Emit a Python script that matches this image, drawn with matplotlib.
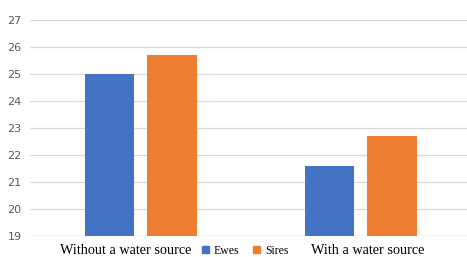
import matplotlib
matplotlib.use("Agg")
import matplotlib.pyplot as plt
import numpy as np
from matplotlib.patches import Patch

categories = ["Without a water source", "With a water source"]
series_names = ["Ewes", "Sires"]
ewes = [25.0, 21.6]
sires = [25.7, 22.7]
yticks = [19, 20, 21, 22, 23, 24, 25, 26, 27]

blue = "#4472C4"
orange = "#ED7D31"

fig = plt.figure(figsize=(4.67, 2.57), dpi=100)
ax = fig.add_axes([0.064, 0.082, 0.936, 0.840])

x = np.arange(len(categories))
w = 0.227
off = 0.143
ax.bar(x - off, ewes, width=w, color=blue, zorder=2)
ax.bar(x + off, sires, width=w, color=orange, zorder=2)

ax.set_xlim(-0.505, 1.482)
ax.set_ylim(19, 27)
ax.set_yticks(yticks)
ax.set_yticklabels([str(t) for t in yticks], color="#595959", fontsize=8)
ax.yaxis.grid(True, color="#D9D9D9", linewidth=0.9, zorder=0)
ax.set_axisbelow(True)
ax.tick_params(axis="y", length=0, pad=6)
ax.set_xticks(x + np.array([-0.07, 0.03]))
ax.set_xticklabels(categories, fontfamily="Liberation Serif", fontsize=10.3, color="black")
ax.tick_params(axis="x", length=0, pad=6)
for s in ax.spines.values():
    s.set_visible(False)
ax.axhline(19, color="#D9D9D9", linewidth=0.9, zorder=1)

handles = [Patch(color=blue), Patch(color=orange)]
fig.legend(handles, series_names, loc="center", bbox_to_anchor=(0.525, 0.025), ncol=2,
           frameon=False, prop={"family": "Liberation Serif", "size": 8.5},
           handlelength=0.6, handleheight=0.6, columnspacing=1.2, handletextpad=0.4,
           borderpad=0.1)

fig.savefig("out.png", dpi=100)
